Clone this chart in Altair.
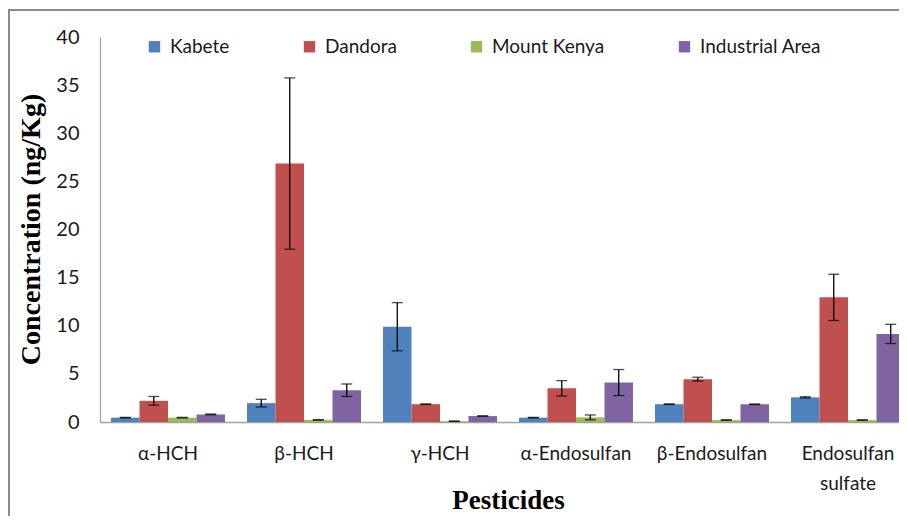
import altair as alt
import pandas as pd

pesticides = ["α-HCH", "β-HCH", "γ-HCH", "α-Endosulfan", "β-Endosulfan", "Endosulfan sulfate"]
sites = ["Kabete", "Dandora", "Mount Kenya", "Industrial Area"]
colors = ["#4F81BD", "#C0504D", "#9BBB59", "#8064A2"]

kabete = [0.45, 1.96, 9.9, 0.45, 1.85, 2.56]
kabete_err = [0.03, 0.4, 2.5, 0.03, 0.03, 0.07]
dandora = [2.2, 26.85, 1.85, 3.5, 4.45, 12.95]
dandora_err = [0.45, 8.9, 0.03, 0.8, 0.2, 2.4]
mount_kenya = [0.45, 0.22, 0.08, 0.48, 0.2, 0.2]
mount_kenya_err = [0.03, 0.02, 0.02, 0.25, 0.03, 0.03]
industrial = [0.79, 3.3, 0.62, 4.1, 1.84, 9.15]
industrial_err = [0.04, 0.65, 0.02, 1.35, 0.03, 1.0]

rows = []
for site, vals, errs in zip(sites, [kabete, dandora, mount_kenya, industrial],
                            [kabete_err, dandora_err, mount_kenya_err, industrial_err]):
    for p, v, e in zip(pesticides, vals, errs):
        rows.append({"pesticide": p, "site": site, "value": v, "lo": v - e, "hi": v + e})
df = pd.DataFrame(rows)

x_axis = alt.Axis(
    title="Pesticides", labelAngle=0, ticks=False,
    domainColor="#A0A0A0", domainWidth=1.5,
    labelFont="Lato", labelFontSize=19, labelColor="#1a1a1a", labelPadding=22,
    labelLineHeight=30,
    labelExpr="datum.label == 'Endosulfan sulfate' ? ['Endosulfan', 'sulfate'] : datum.label",
    titleFont="Liberation Serif", titleFontSize=27, titleFontWeight="bold", titleColor="black",
    titleX=408, titleY=86, titleBaseline="alphabetic", titleAlign="center",
)
y_axis = alt.Axis(
    title="Concentration (ng/Kg)", values=list(range(0, 41, 5)), grid=False, ticks=False,
    domainColor="#A0A0A0", domainWidth=1.2,
    labelFont="Lato", labelFontSize=20, labelColor="#1a1a1a", labelPadding=21,
    titleFont="Liberation Serif", titleFontSize=28, titleFontWeight="bold", titleColor="black",
    titleX=-69, titleY=192, titleBaseline="middle", titleAlign="center", titleAngle=270,
)
x_scale = alt.Scale(range=[0, 816], paddingInner=0.162, paddingOuter=0.081)
y_scale = alt.Scale(domain=[0, 40])

x_enc = alt.X("pesticide:N", sort=pesticides, scale=x_scale, axis=x_axis)
xo = alt.XOffset("site:N", sort=sites, scale=alt.Scale(domain=sites, paddingInner=0, paddingOuter=0))

bars = alt.Chart(df).mark_bar().encode(
    x=x_enc,
    xOffset=xo,
    y=alt.Y("value:Q", scale=y_scale, axis=y_axis),
    color=alt.Color(
        "site:N", scale=alt.Scale(domain=sites, range=colors),
        legend=alt.Legend(
            title=None, orient="none", direction="horizontal", columns=4,
            legendX=45, legendY=0, padding=0,
            symbolType="square", symbolSize=130, symbolStrokeWidth=0,
            labelFont="Lato", labelFontSize=19, labelColor="#1a1a1a",
            labelOffset=6, columnPadding=70,
        ),
    ),
)

err = alt.Chart(df).mark_rule(color="black", strokeWidth=1.3).encode(
    x=x_enc, xOffset=xo,
    y=alt.Y("lo:Q", scale=y_scale, axis=y_axis), y2="hi:Q",
)
cap_hi = alt.Chart(df).mark_tick(color="black", size=11, thickness=1.3).encode(
    x=x_enc, xOffset=xo, y=alt.Y("hi:Q", scale=y_scale, axis=y_axis),
)
cap_lo = alt.Chart(df).mark_tick(color="black", size=11, thickness=1.3).encode(
    x=x_enc, xOffset=xo, y=alt.Y("lo:Q", scale=y_scale, axis=y_axis),
)

frame_df = pd.DataFrame({"k": [0]})
left_border = alt.Chart(frame_df).mark_rule(color="#8c8c8c", strokeWidth=2).encode(
    x=alt.value(-91), y=alt.value(-27), y2=alt.value(480)
)
top_border = alt.Chart(frame_df).mark_rule(color="#8c8c8c", strokeWidth=2).encode(
    x=alt.value(-92), x2=alt.value(800), y=alt.value(-27)
)

chart = alt.layer(bars, err, cap_hi, cap_lo, left_border, top_border).properties(
    width=799, height=385,
    autosize=alt.AutoSizeParams(type="none"),
    padding={"left": 92, "top": 29, "right": 0, "bottom": 94},
    background="white",
).configure_view(stroke=None)

chart.save("out.html", embed_options={"renderer": "svg", "actions": False})
